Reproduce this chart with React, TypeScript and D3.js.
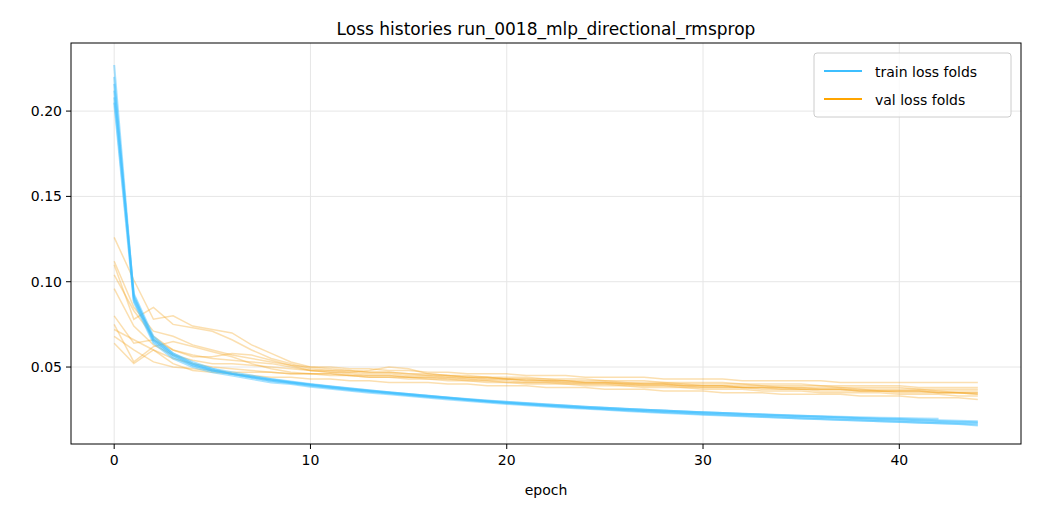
import React from 'react';
import * as d3 from 'd3';

const title = 'Loss histories run_0018_mlp_directional_rmsprop';
const xTicks = [0, 10, 20, 30, 40];
const yTicks = [0.05, 0.1, 0.15, 0.2];

const trainFolds: number[][] = [
  [0.227,0.091,0.067,0.058,0.052,0.049,0.046,0.044,0.042,0.041,0.0395,0.038,0.037,0.036,0.035,0.034,0.033,0.032,0.031,0.030,0.0292,0.0285,0.0278,0.0271,0.0265,0.026,0.0254,0.0249,0.0244,0.0239,0.0234,0.023,0.0226,0.0222,0.0218,0.0214,0.021,0.0206,0.0202,0.0199,0.0196,0.0192,0.0188,0.0185,0.0182],
  [0.220,0.089,0.065,0.056,0.051,0.048,0.046,0.044,0.042,0.0405,0.039,0.0378,0.0366,0.0355,0.0345,0.0335,0.0325,0.0315,0.0305,0.0296,0.0288,0.028,0.0273,0.0266,0.026,0.0254,0.0248,0.0243,0.0238,0.0233,0.0228,0.0223,0.0219,0.0215,0.021,0.0206,0.0202,0.0198,0.0194,0.019,0.0186,0.0182,0.0178,0.0175,0.0172],
  [0.212,0.093,0.068,0.058,0.053,0.049,0.047,0.045,0.043,0.0415,0.040,0.0388,0.0376,0.0364,0.0353,0.0342,0.0332,0.0322,0.0312,0.0303,0.0295,0.0288,0.0281,0.0274,0.0268,0.0262,0.0256,0.025,0.0245,0.024,0.0235,0.0231,0.0227,0.0223,0.0219,0.0215,0.0212,0.0209,0.0206,0.0203,0.0201,0.0199,0.0197],
  [0.205,0.088,0.064,0.055,0.050,0.047,0.045,0.043,0.041,0.040,0.0385,0.0373,0.0361,0.035,0.034,0.033,0.032,0.031,0.0301,0.0292,0.0284,0.0276,0.0269,0.0262,0.0255,0.0249,0.0243,0.0237,0.0231,0.0226,0.0221,0.0216,0.0211,0.0207,0.0203,0.0199,0.0195,0.0191,0.0187,0.0183,0.0179,0.0175,0.0171,0.0167,0.0164],
  [0.208,0.090,0.066,0.057,0.052,0.048,0.046,0.044,0.0425,0.041,0.0398,0.0385,0.0372,0.036,0.0349,0.0338,0.0328,0.0318,0.0308,0.0299,0.029,0.0282,0.0274,0.0267,0.026,0.0253,0.0247,0.0241,0.0235,0.0229,0.0224,0.0219,0.0214,0.0209,0.0204,0.0199,0.0194,0.019,0.0186,0.0182,0.0178,0.0174,0.017,0.0166,0.0158],
  [0.216,0.092,0.066,0.057,0.051,0.048,0.046,0.0445,0.0428,0.0412,0.0398,0.0386,0.0374,0.0363,0.0352,0.0342,0.0332,0.0322,0.0313,0.0304,0.0296,0.0289,0.0282,0.0275,0.0268,0.0262,0.0256,0.025,0.0245,0.024,0.0235,0.023,0.0225,0.022,0.0216,0.0212,0.0208,0.0204,0.02,0.0196,0.0192,0.0188,0.0184,0.018,0.0177],
];

const valFolds: number[][] = [
  [0.126,0.101,0.078,0.080,0.074,0.072,0.070,0.063,0.058,0.053,0.050,0.049,0.048,0.047,0.047,0.046,0.045,0.045,0.044,0.044,0.043,0.043,0.042,0.042,0.041,0.041,0.041,0.040,0.040,0.040,0.039,0.039,0.039,0.039,0.038,0.038,0.038,0.038,0.037,0.037,0.037,0.037,0.036,0.036,0.036],
  [0.112,0.085,0.071,0.068,0.063,0.060,0.057,0.055,0.053,0.051,0.050,0.050,0.049,0.049,0.048,0.048,0.047,0.047,0.046,0.046,0.046,0.045,0.045,0.045,0.044,0.044,0.044,0.044,0.043,0.043,0.043,0.043,0.042,0.042,0.042,0.042,0.042,0.041,0.041,0.041,0.041,0.041,0.041,0.041,0.041],
  [0.110,0.078,0.085,0.075,0.073,0.071,0.066,0.060,0.055,0.052,0.049,0.048,0.048,0.047,0.047,0.046,0.046,0.045,0.045,0.044,0.044,0.044,0.043,0.043,0.043,0.042,0.042,0.042,0.041,0.041,0.041,0.041,0.040,0.040,0.040,0.040,0.039,0.039,0.039,0.039,0.039,0.038,0.038,0.038,0.038],
  [0.104,0.083,0.068,0.060,0.056,0.056,0.058,0.057,0.054,0.051,0.048,0.047,0.047,0.048,0.050,0.049,0.046,0.045,0.044,0.044,0.043,0.043,0.043,0.042,0.042,0.042,0.041,0.041,0.041,0.040,0.040,0.040,0.040,0.039,0.039,0.039,0.039,0.038,0.038,0.038,0.038,0.037,0.037,0.037,0.037],
  [0.096,0.074,0.063,0.057,0.054,0.052,0.052,0.051,0.050,0.049,0.048,0.047,0.046,0.045,0.045,0.044,0.044,0.043,0.043,0.042,0.042,0.041,0.041,0.041,0.040,0.040,0.040,0.039,0.039,0.039,0.038,0.038,0.038,0.038,0.037,0.037,0.037,0.037,0.036,0.036,0.036,0.036,0.035,0.035,0.035],
  [0.080,0.064,0.066,0.060,0.057,0.055,0.054,0.053,0.052,0.050,0.048,0.048,0.047,0.046,0.046,0.045,0.045,0.044,0.044,0.043,0.043,0.042,0.042,0.042,0.041,0.041,0.040,0.040,0.040,0.039,0.039,0.039,0.038,0.038,0.038,0.038,0.037,0.037,0.037,0.036,0.036,0.036,0.036,0.035,0.035],
  [0.075,0.053,0.062,0.065,0.062,0.059,0.056,0.052,0.049,0.047,0.046,0.046,0.045,0.044,0.044,0.044,0.043,0.043,0.042,0.042,0.041,0.041,0.041,0.040,0.040,0.040,0.039,0.039,0.039,0.038,0.038,0.038,0.038,0.037,0.037,0.037,0.036,0.036,0.036,0.036,0.035,0.035,0.035,0.035,0.034],
  [0.072,0.066,0.060,0.055,0.052,0.050,0.049,0.048,0.047,0.046,0.046,0.045,0.045,0.044,0.044,0.043,0.043,0.042,0.042,0.041,0.041,0.040,0.040,0.040,0.039,0.039,0.039,0.038,0.038,0.038,0.037,0.037,0.037,0.036,0.036,0.036,0.035,0.035,0.035,0.035,0.034,0.034,0.034,0.033,0.033],
  [0.068,0.060,0.053,0.050,0.049,0.048,0.047,0.047,0.047,0.046,0.046,0.046,0.045,0.045,0.045,0.044,0.044,0.044,0.043,0.043,0.043,0.042,0.042,0.041,0.041,0.041,0.040,0.040,0.040,0.039,0.039,0.039,0.038,0.038,0.038,0.037,0.037,0.037,0.036,0.036,0.036,0.036,0.035,0.035,0.034],
  [0.064,0.052,0.060,0.052,0.048,0.047,0.046,0.045,0.044,0.044,0.043,0.043,0.042,0.042,0.041,0.041,0.041,0.040,0.040,0.039,0.039,0.039,0.038,0.038,0.038,0.037,0.037,0.037,0.036,0.036,0.036,0.035,0.035,0.035,0.034,0.034,0.034,0.034,0.033,0.033,0.033,0.032,0.032,0.032,0.031],
];

const W = 1040, H = 520;
const m = { left: 71, right: 1021, top: 43, bottom: 444 };

export default function App() {
  const x = d3.scaleLinear().domain([-2.2, 46.2]).range([m.left, m.right]);
  const y = d3.scaleLinear().domain([0.0049, 0.2399]).range([m.bottom, m.top]);
  const line = d3.line<number>().x((_, i) => x(i)).y(d => y(d));
  const font = 'DejaVu Sans, sans-serif';
  return (
    <svg width={W} height={H} style={{ position: 'absolute', left: 0, top: 0 }} fontFamily={font}>
      <rect width={W} height={H} fill="#fff" />
      <text x={(m.left + m.right) / 2} y={35} textAnchor="middle" fontSize={17}>{title}</text>
      {xTicks.map(t => (
        <g key={'x' + t}>
          <line x1={x(t)} x2={x(t)} y1={m.top} y2={m.bottom} stroke="#e6e6e6" strokeWidth={1} />
          <line x1={x(t)} x2={x(t)} y1={m.bottom} y2={m.bottom + 5} stroke="#000" />
          <text x={x(t)} y={m.bottom + 21} textAnchor="middle" fontSize={14}>{t}</text>
        </g>
      ))}
      {yTicks.map(t => (
        <g key={'y' + t}>
          <line x1={m.left} x2={m.right} y1={y(t)} y2={y(t)} stroke="#e6e6e6" strokeWidth={1} />
          <line x1={m.left - 5} x2={m.left} y1={y(t)} y2={y(t)} stroke="#000" />
          <text x={m.left - 9} y={y(t) + 5} textAnchor="end" fontSize={14}>{t.toFixed(2)}</text>
        </g>
      ))}
      {valFolds.map((v, i) => (
        <path key={'v' + i} d={line(v) ?? ''} fill="none" stroke="#f5a623" strokeOpacity={0.36} strokeWidth={1.5} />
      ))}
      {trainFolds.map((v, i) => (
        <path key={'t' + i} d={line(v) ?? ''} fill="none" stroke="#3dbfff" strokeOpacity={0.45} strokeWidth={2} />
      ))}
      <rect x={m.left} y={m.top} width={m.right - m.left} height={m.bottom - m.top} fill="none" stroke="#000" />
      <text x={(m.left + m.right) / 2} y={495} textAnchor="middle" fontSize={14}>epoch</text>
      <g>
        <rect x={814} y={53} width={197} height={64} rx={3} fill="#fff" fillOpacity={0.8} stroke="#ccc" />
        <line x1={824} x2={862} y1={71} y2={71} stroke="#3dbfff" strokeWidth={2} />
        <text x={875} y={77} fontSize={14}>train loss folds</text>
        <line x1={824} x2={862} y1={99} y2={99} stroke="#ffa500" strokeWidth={2} />
        <text x={875} y={105} fontSize={14}>val loss folds</text>
      </g>
    </svg>
  );
}
